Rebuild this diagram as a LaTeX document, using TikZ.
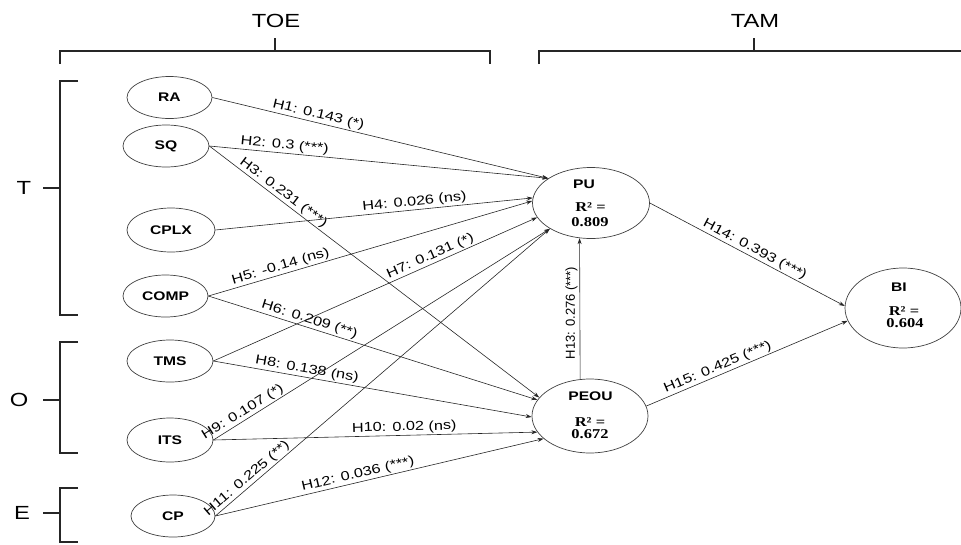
\documentclass[tikz,border=0pt]{standalone}
\usepackage{fontspec}
\setmainfont{Liberation Sans}[FakeStretch=1.25]
\newfontfamily\rfont{Liberation Serif}[FakeStretch=1.22]
\newfontfamily\vfont{Liberation Sans}
\usetikzlibrary{shapes.geometric,arrows.meta}
\begin{document}
\begin{tikzpicture}[x=1pt,y=-1pt,
  cons/.style={ellipse,draw=black!75,line width=0.7pt,inner sep=0pt},
  nm/.style={font=\fontsize{12.5}{14}\selectfont\bfseries},
  rsq/.style={font=\fontsize{13.5}{15}\selectfont\rfont\bfseries,inner sep=0pt},
  edge/.style={draw=black!85,line width=0.6pt,-{Stealth[length=6pt,width=4pt]}},
  lab/.style={font=\fontsize{13}{15}\selectfont,sloped,above,inner sep=1.5pt},
  vlab/.style={font=\vfont\fontsize{13}{15}\selectfont,rotate=90,above,inner sep=2pt},
  brk/.style={draw=black!85,line width=1.3pt},
  big/.style={font=\fontsize{19}{22}\selectfont,inner sep=0pt}]
\useasboundingbox (0,0) rectangle (961,544);

% top brackets
\draw[brk] (60,64) -- (60,51) -- (490,51) -- (490,64);
\draw[brk] (275,38) -- (275,51);
\node[big] (toe) at (276,21) {TOE};
\draw[brk] (539,64) -- (539,51) -- (975,51);
\draw[brk] (754,38) -- (754,51);
\node[big] (tam) at (755,21) {TAM};

% left brackets
\draw[brk] (78,81) -- (60,81) -- (60,315) -- (78,315);
\draw[brk] (43,188) -- (60,188);
\node[big] (Tl) at (24,188) {T};
\draw[brk] (78,342) -- (60,342) -- (60,453) -- (78,453);
\draw[brk] (43,400) -- (60,400);
\node[big] (Ol) at (19,400) {O};
\draw[brk] (78,488) -- (60,488) -- (60,542) -- (78,542);
\draw[brk] (43,513) -- (60,513);
\node[big] (El) at (22,513) {E};

% constructs
\node[cons,nm,minimum width=85pt,minimum height=42pt] (RA) at (169.5,97.5) {RA};
\node[cons,nm,minimum width=86pt,minimum height=42pt] (SQ) at (166,146) {SQ};
\node[cons,nm,minimum width=88pt,minimum height=44pt] (CPLX) at (171,230) {CPLX};
\node[cons,nm,minimum width=85pt,minimum height=42pt] (COMP) at (165.5,296) {COMP};
\node[cons,nm,minimum width=86pt,minimum height=42pt] (TMS) at (170,361) {TMS};
\node[cons,nm,minimum width=86pt,minimum height=44pt] (ITS) at (170,440) {ITS};
\node[cons,nm,minimum width=84pt,minimum height=42pt] (CP) at (173,516) {CP};

\node[cons,minimum width=117pt,minimum height=71pt] (PU) at (591,203) {};
\node[nm] (PUn) at (584,184) {PU};
\node[rsq] (PUr) at (590.5,207) {R² =};
\node[rsq] (PUv) at (590,222.5) {0.809};

\node[cons,minimum width=116pt,minimum height=74pt] (PEOU) at (590,416) {};
\node[nm] (PEOUn) at (590.5,396.5) {PEOU};
\node[rsq] (PEOUr) at (590,422) {R² =};
\node[rsq] (PEOUv) at (590,434) {0.672};

\node[cons,minimum width=116pt,minimum height=80pt] (BI) at (903,308) {};
\node[nm] (BIn) at (899,287) {BI};
\node[rsq] (BIr) at (904,311) {R² =};
\node[rsq] (BIv) at (905,323) {0.604};

% paths
\draw[edge] (RA.east) -- node[lab,pos=0.31] (l1) {H1: 0.143 (*)} (PU.150);
\draw[edge] (SQ.east) -- node[lab,pos=0.22] (l2) {H2: 0.3 (***)} (PU.150);
\draw[edge] (SQ.east) -- node[lab,pos=0.21] (l3) {H3: 0.231 (***)} (PEOU.160);
\draw[edge] (CPLX.east) -- node[lab,pos=0.63] (l4) {H4: 0.026 (ns)} (PU.175);
\draw[edge] (COMP.east) -- node[lab,pos=0.23] (l5) {H5: -0.14 (ns)} (PU.178);
\draw[edge] (COMP.east) -- node[lab,pos=0.30] (l6) {H6: 0.209 (**)} (PEOU.163);
\draw[edge] (TMS.east) -- node[lab,pos=0.68] (l7) {H7: 0.131 (*)} (PU.195);
\draw[edge] (TMS.east) -- node[lab,pos=0.29] (l8) {H8: 0.138 (ns)} (PEOU.181);
\draw[edge] (ITS.east) -- node[lab,pos=0.10] (l9) {H9: 0.107 (*)} (PU.212);
\draw[edge] (ITS.east) -- node[lab,pos=0.59] (l10) {H10: 0.02 (ns)} (PEOU.197);
\draw[edge] (CP.east) -- node[lab,pos=0.11] (l11) {H11: 0.225 (**)} (PU.212);
\draw[edge] (CP.east) -- node[lab,pos=0.44] (l12) {H12: 0.036 (***)} (PEOU.206);
\draw[edge] (PEOU.105) -- node[vlab,pos=0.47] (l13) {H13: 0.276 (***)} (PU.252);
\draw[edge] (PU.east) -- node[lab,pos=0.52] (l14) {H14: 0.393 (***)} (BI.178);
\draw[edge] (PEOU.10) -- node[lab,pos=0.37] (l15) {H15: 0.425 (***)} (BI.193);
\end{tikzpicture}
\end{document}
